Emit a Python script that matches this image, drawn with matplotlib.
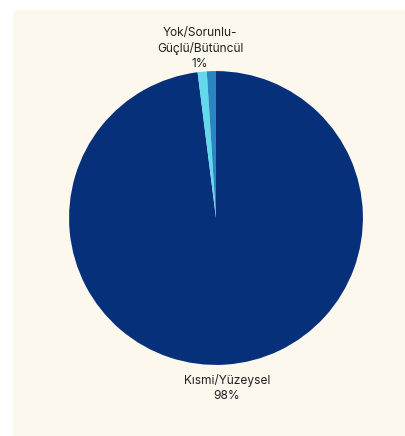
import matplotlib
matplotlib.use("Agg")
import matplotlib.pyplot as plt
from matplotlib.patches import Rectangle
import numpy as np

plt.rcParams['font.family'] = ['Inter', 'DejaVu Sans']

# slice values (percent), clockwise from 12 o'clock
labels = ["Kısmi/Yüzeysel", "Yok/Sorunlu-\nGüçlü/Bütüncül", ""]
values = [98, 1, 1]
colors = ["#06307a", "#62d9ec", "#2a86c0"]

fig = plt.figure(figsize=(4.06, 4.36), dpi=100)
fig.patch.set_facecolor("white")
# cream card behind the chart
fig.patches.append(Rectangle((13 / 406, 0), 1, 1 - 10 / 436, transform=fig.transFigure,
                             facecolor="#fdf8ed", edgecolor="none", zorder=-1))

ax = fig.add_axes([0.170, 0.163, 0.724, 0.674])
ax.set_zorder(2)
ax.set_facecolor("none")
wedges, _ = ax.pie(values, colors=colors, startangle=90, counterclock=False,
                   wedgeprops=dict(linewidth=0))
ax.set_aspect("equal")
ax.set_xlim(-1, 1)
ax.set_ylim(-1, 1)

total = sum(values)
for w, lab, v in zip(wedges, labels, values):
    if not lab:
        continue
    ang = np.deg2rad((w.theta1 + w.theta2) / 2)
    r = 1.16
    ax.text(r * np.cos(ang), r * np.sin(ang), f"{lab}\n{v / total * 100:.0f}%",
            ha="center", va="center", fontsize=8.6, color="#222222",
            linespacing=1.3, clip_on=False)

fig.savefig("out.png", dpi=100, facecolor=fig.get_facecolor())
